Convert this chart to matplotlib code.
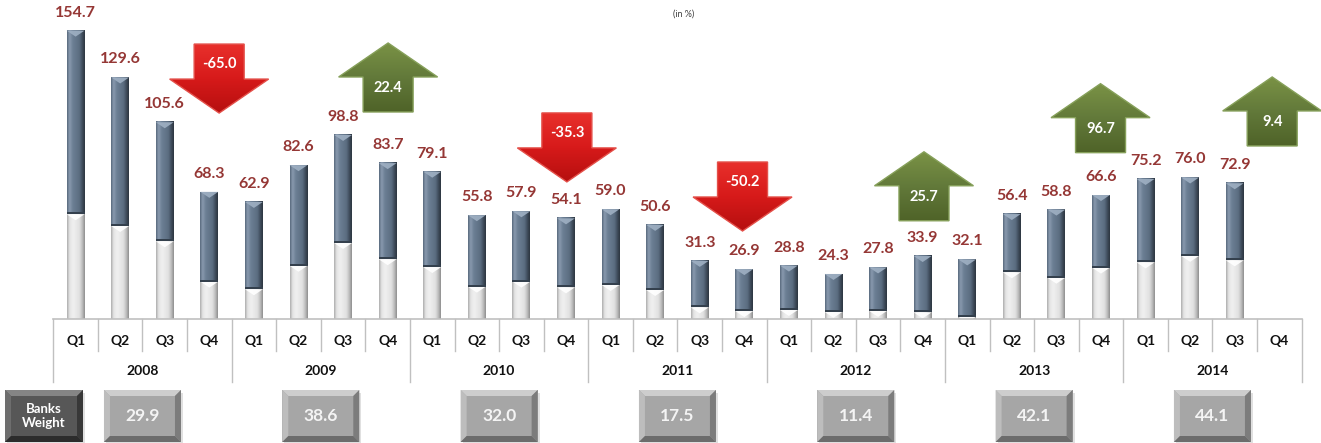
import numpy as np
import matplotlib
matplotlib.use("Agg")
import matplotlib.pyplot as plt
from matplotlib.patches import Polygon, Rectangle
from matplotlib.colors import LinearSegmentedColormap

# ---- data -------------------------------------------------------------
years = ["2008", "2009", "2010", "2011", "2012", "2013", "2014"]
quarters = ["Q1", "Q2", "Q3", "Q4"]
totals = [154.7, 129.6, 105.6, 68.3, 62.9, 82.6, 98.8, 83.7,
          79.1, 55.8, 57.9, 54.1, 59.0, 50.6, 31.3, 26.9,
          28.8, 24.3, 27.8, 33.9, 32.1, 56.4, 58.8, 66.6,
          75.2, 76.0, 72.9, np.nan]
lower_part = [56.3, 50.0, 41.8, 20.2, 16.1, 28.7, 40.9, 32.2,
              28.0, 17.5, 20.2, 17.1, 18.4, 15.7, 6.4, 4.4,
              5.0, 4.0, 4.5, 3.7, 1.4, 25.2, 22.3, 27.7,
              30.5, 34.0, 31.6, np.nan]
yearly_change = [-65.0, 22.4, -35.3, -50.2, 25.7, 96.7, 9.4]
banks_weight = [29.9, 38.6, 32.0, 17.5, 11.4, 42.1, 44.1]

# ---- layout -----------------------------------------------------------
# arrow anchors (category position, value): top of down arrows, base of up arrows
arrow_anchor = [(3.22, 147.5), (7.01, 111.1), (11.02, 110.6), (14.96, 84.3),
                (19.03, 52.8), (22.99, 89.3), (26.84, 92.9)]

W, H = 1321, 443
AX_LEFT, AX_RIGHT, BASE_Y = 53.3, 1301.6, 319.3
PX_PER_UNIT = 1.866

FONT = ["Lato", "DejaVu Sans"]
plt.rcParams["font.family"] = FONT

fig = plt.figure(figsize=(W / 100, H / 100), dpi=100)
ax = fig.add_axes([AX_LEFT / W, (H - BASE_Y) / H, (AX_RIGHT - AX_LEFT) / W, BASE_Y / H])
ax.axis("off")

n = len(totals)
XLIM = (-0.5, n - 0.5)
YLIM = (0, BASE_Y / PX_PER_UNIT)

dark_cmap = LinearSegmentedColormap.from_list(
    "slate", [(0, "#55667a"), (0.14, "#8a9bb0"), (0.32, "#6c7f94"),
              (0.7, "#5b6d81"), (0.86, "#3f4c5b"), (1, "#2b343e")])
light_cmap = LinearSegmentedColormap.from_list(
    "silver", [(0, "#a9a9a9"), (0.14, "#e4e4e4"), (0.35, "#f0f0f0"),
               (0.7, "#e1e1e1"), (0.86, "#bcbcbc"), (1, "#8c8c8c")])
grad = np.linspace(0, 1, 128).reshape(1, -1)

bar_w = 0.4
tri_h = 6 / PX_PER_UNIT


def shaded_segment(x, y0, y1, cmap, tip_color):
    ax.imshow(grad, cmap=cmap, extent=(x - bar_w / 2, x + bar_w / 2, y0, y1),
              aspect="auto", interpolation="bicubic", zorder=2)
    ax.add_patch(Polygon([(x - bar_w / 2, y1), (x + bar_w / 2, y1), (x, y1 - tri_h)],
                         closed=True, facecolor=tip_color, edgecolor="none",
                         alpha=0.9, zorder=3))


for i, (tot, low) in enumerate(zip(totals, lower_part)):
    if np.isnan(tot):
        continue
    shaded_segment(i, 0, low, light_cmap, "#ffffff")
    shaded_segment(i, low, tot, dark_cmap, "#9fb0c3")
    # dark seam where the upper segment sits on the lower one
    ax.add_patch(Rectangle((i - bar_w / 2, low), bar_w, 2 / PX_PER_UNIT,
                           facecolor="#34404d", edgecolor="none", zorder=3))
    ax.annotate(f"{tot:.1f}", (i, tot), xytext=(0, 13), textcoords="offset points",
                ha="center", va="center", color="#953735", fontsize=11.5,
                fontweight="bold")

ax.set_xlim(*XLIM)
ax.set_ylim(*YLIM)

# ---- overlay in pixel coordinates ---------------------------------------
ov = fig.add_axes([0, 0, 1, 1])
ov.set_xlim(0, W)
ov.set_ylim(H, 0)
ov.axis("off")
ov.set_facecolor("none")


def to_px(x, y):
    dx, dy = ax.transData.transform((x, y))
    return dx, H - dy


ov.text(684, 14, "(in %)", ha="center", va="center", fontsize=6.5, color="#404040")

# two-level category axis
line_c = "#c0c0c0"
x_left = to_px(-0.5, 0)[0]
x_right = to_px(n - 0.5, 0)[0]
ov.plot([x_left, x_right], [BASE_Y, BASE_Y], color=line_c, lw=1.2)
for k in range(n + 1):
    xb = to_px(k - 0.5, 0)[0]
    y_end = 381.7 if k % 4 == 0 else 350.7
    ov.plot([xb, xb], [BASE_Y, y_end], color=line_c, lw=1)
for i in range(n):
    ov.text(to_px(i, 0)[0], 340.7, quarters[i % 4], ha="center", va="center",
            fontsize=10, fontweight="bold", color="#111111")
for j, yr in enumerate(years):
    ov.text(to_px(4 * j + 1.5, 0)[0], 370.7, yr, ha="center", va="center",
            fontsize=10, fontweight="bold", color="#111111")

# yearly change arrows
AW, SW, AH, HH = 99, 50, 69, 34
vgrad = np.linspace(0, 1, 128).reshape(-1, 1)
red_cmap = LinearSegmentedColormap.from_list("red", ["#e8302c", "#d71a1a", "#b50f0f"])
green_cmap = LinearSegmentedColormap.from_list("green", ["#7a9245", "#62793a", "#4f6328"])

for val, (cx, ay) in zip(yearly_change, arrow_anchor):
    px, py = to_px(cx, ay)
    if val < 0:
        t = py
        pts = [(px - SW / 2, t), (px + SW / 2, t), (px + SW / 2, t + AH - HH),
               (px + AW / 2, t + AH - HH), (px, t + AH), (px - AW / 2, t + AH - HH),
               (px - SW / 2, t + AH - HH)]
        y_top, y_bot = t, t + AH
        text_y = t + 20
        cmap, edge = red_cmap, "#e4504a"
    else:
        b = py
        pts = [(px - SW / 2, b), (px + SW / 2, b), (px + SW / 2, b - (AH - HH)),
               (px + AW / 2, b - (AH - HH)), (px, b - AH), (px - AW / 2, b - (AH - HH)),
               (px - SW / 2, b - (AH - HH))]
        y_top, y_bot = b - AH, b
        text_y = b - 24
        cmap, edge = green_cmap, "#86a05a"
    poly = Polygon(pts, closed=True, facecolor="none", edgecolor=edge, lw=1.0, zorder=4)
    ov.add_patch(poly)
    im = ov.imshow(vgrad, cmap=cmap, origin="upper", aspect="auto",
                   extent=(px - AW / 2, px + AW / 2, y_bot, y_top), zorder=3)
    im.set_clip_path(poly)
    ov.text(px, text_y, f"{val:.1f}", ha="center", va="center", color="white",
            fontsize=10.5, fontweight="bold", zorder=5)

ov.set_xlim(0, W)
ov.set_ylim(H, 0)


# bevelled boxes under the axis
def bevel_box(x0, y0, w, h, face, top, left, right, bottom, b=6):
    x1, y1 = x0 + w, y0 + h
    ov.add_patch(Rectangle((x0 + 2, y0 + 3), w, h, facecolor="#000000", alpha=0.12,
                           edgecolor="none", zorder=2))
    ov.add_patch(Rectangle((x0, y0), w, h, facecolor=face, edgecolor="none", zorder=3))
    for pts, c in [([(x0, y0), (x1, y0), (x1 - b, y0 + b), (x0 + b, y0 + b)], top),
                   ([(x0, y0), (x0 + b, y0 + b), (x0 + b, y1 - b), (x0, y1)], left),
                   ([(x1, y0), (x1, y1), (x1 - b, y1 - b), (x1 - b, y0 + b)], right),
                   ([(x0, y1), (x0 + b, y1 - b), (x1 - b, y1 - b), (x1, y1)], bottom)]:
        ov.add_patch(Polygon(pts, closed=True, facecolor=c, edgecolor="none", zorder=3))


BOX_W, BOX_TOP, BOX_H = 77, 390, 52
bevel_box(5, BOX_TOP, 78, BOX_H, "#575757", "#858585", "#6e6e6e", "#383838", "#2c2c2c")
ov.text(44, BOX_TOP + BOX_H / 2, "Banks\nWeight", ha="center", va="center",
        color="white", fontsize=9.5, fontweight="bold", linespacing=1.25, zorder=5)
for j, wgt in enumerate(banks_weight):
    cx = to_px(4 * j + 1.5, 0)[0]
    bevel_box(cx - BOX_W / 2, BOX_TOP, BOX_W, BOX_H, "#a6a6a6", "#cdcdcd",
              "#bdbdbd", "#7c7c7c", "#6c6c6c")
    ov.text(cx, BOX_TOP + BOX_H / 2, f"{wgt:.1f}", ha="center", va="center",
            color="#f4f4f4", fontsize=12.5, fontweight="bold", zorder=5)

fig.savefig("out.png", dpi=100)
